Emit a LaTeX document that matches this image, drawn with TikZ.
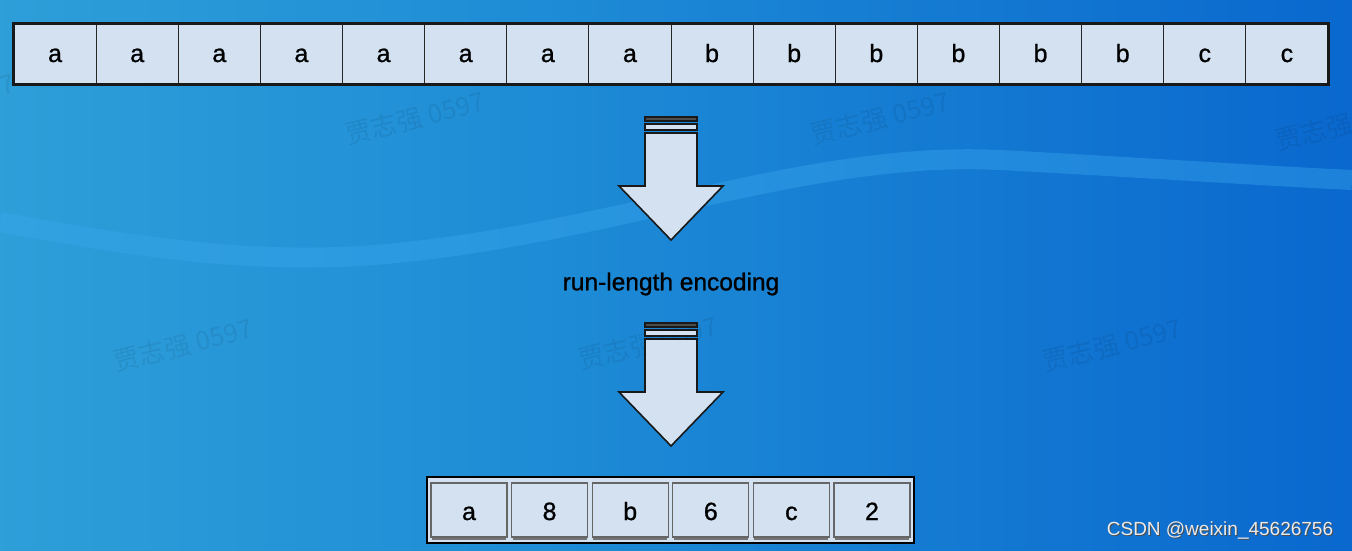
\documentclass[tikz,border=0pt]{standalone}
\usepackage{fontspec}
\setmainfont{Liberation Sans}
\newfontfamily\cellfont[FakeBold=0.9]{Liberation Sans}
\newfontfamily\cjk{Noto Sans CJK SC}
\usetikzlibrary{positioning}

\definecolor{bgA}{HTML}{42B6DC}
\definecolor{bgB}{HTML}{1E8CD6}
\definecolor{bgC}{HTML}{0A68CE}
\definecolor{bgD}{HTML}{3A5CDA}
\definecolor{cellfill}{HTML}{D3E1F1}
\definecolor{wavecol}{HTML}{3AA8EE}
\pgfdeclarehorizontalshading{bgshade}{100bp}{color(0bp)=(bgA); color(45bp)=(bgB); color(75bp)=(bgC); color(93bp)=(bgC); color(100bp)=(bgD)}

\tikzset{
  blockarrow/.pic={
    \draw[arrowfill,fill=black!70] (-26,0) rectangle (26,4);
    \draw[arrowfill] (-26,7) rectangle (26,13);
    \draw[arrowfill] (-26,16) -- (-26,69) -- (-52,69) -- (0,123)
      -- (52,69) -- (26,69) -- (26,16) -- cycle;
  }
}

\begin{document}
\begin{tikzpicture}[x=1pt,y=-1pt,
    cell/.style={draw=black!85,line width=1pt,fill=cellfill,minimum width=82.125pt,
      minimum height=60pt,inner sep=0pt,text height=20pt,text depth=4pt,
      font=\cellfont\fontsize{25}{30}\selectfont},
    rcell/.style={draw=black!60,line width=1.2pt,fill=cellfill,minimum width=76pt,
      minimum height=54pt,inner sep=0pt,text height=20pt,text depth=0pt,
      font=\cellfont\fontsize{25}{30}\selectfont},
    arrowfill/.style={draw=black!90,line width=1.6pt,fill=cellfill,line join=miter},
    wm/.style={font=\cjk\fontsize{26}{30}\selectfont,text=black,opacity=0.07,rotate=14}]
  \useasboundingbox (0,0) rectangle (1352,550);
  % background
  \shade[shading=bgshade] (0,0) rectangle (1352,550);
  \draw[wavecol,opacity=0.4,line width=20pt] (0,222) .. controls (150,250) and (250,262) .. (360,256)
    .. controls (600,240) and (800,150) .. (1000,160) .. controls (1150,168) and (1250,175) .. (1352,180);
  % watermarks
  \node[wm] (w1) at (-55,100) {贾志强 0597};
  \node[wm] (w2) at (415,118) {贾志强 0597};
  \node[wm] (w3) at (880,118) {贾志强 0597};
  \node[wm] (w4) at (1345,124) {贾志强 0597};
  \node[wm] (w5) at (183,345) {贾志强 0597};
  \node[wm] (w6) at (648,343) {贾志强 0597};
  \node[wm] (w7) at (1112,345) {贾志强 0597};
  % input string
  \foreach \c [count=\i] in {a,a,a,a,a,a,a,a,b,b,b,b,b,b,c,c}
    \node[cell] (s\i) at ({14+82.125*(\i-0.5)},54) {\c};
  \draw[black!90,line width=2.6pt] (s1.north west) rectangle (s16.south east);
  % arrows and label
  \pic at (671,117) {blockarrow};
  \node[font=\cellfont\fontsize{24.5}{30}\selectfont] (rle) at (671,284) {run-length encoding};
  \pic at (671,323) {blockarrow};
  % encoded string
  \fill[cellfill] (427,477) rectangle (914,543);
  \foreach \c [count=\i] in {a,8,b,6,c,2} {
    \draw[black!55,line width=1.2pt] ({469+80.6*(\i-1)-37},539) -- ({469+80.6*(\i-1)+37},539);
    \node[rcell] (r\i) at ({469+80.6*(\i-1)},510) {\c};
  }
  \draw[black,line width=2.6pt] (427,477) rectangle (914,543);
  % credit
  \node[font=\fontsize{19}{23}\selectfont,text=black!70] at (1221,531) {CSDN @weixin\_45626756};
  \node[font=\fontsize{19}{23}\selectfont,text=black!8] (credit) at (1220,530) {CSDN @weixin\_45626756};
\end{tikzpicture}
\end{document}
